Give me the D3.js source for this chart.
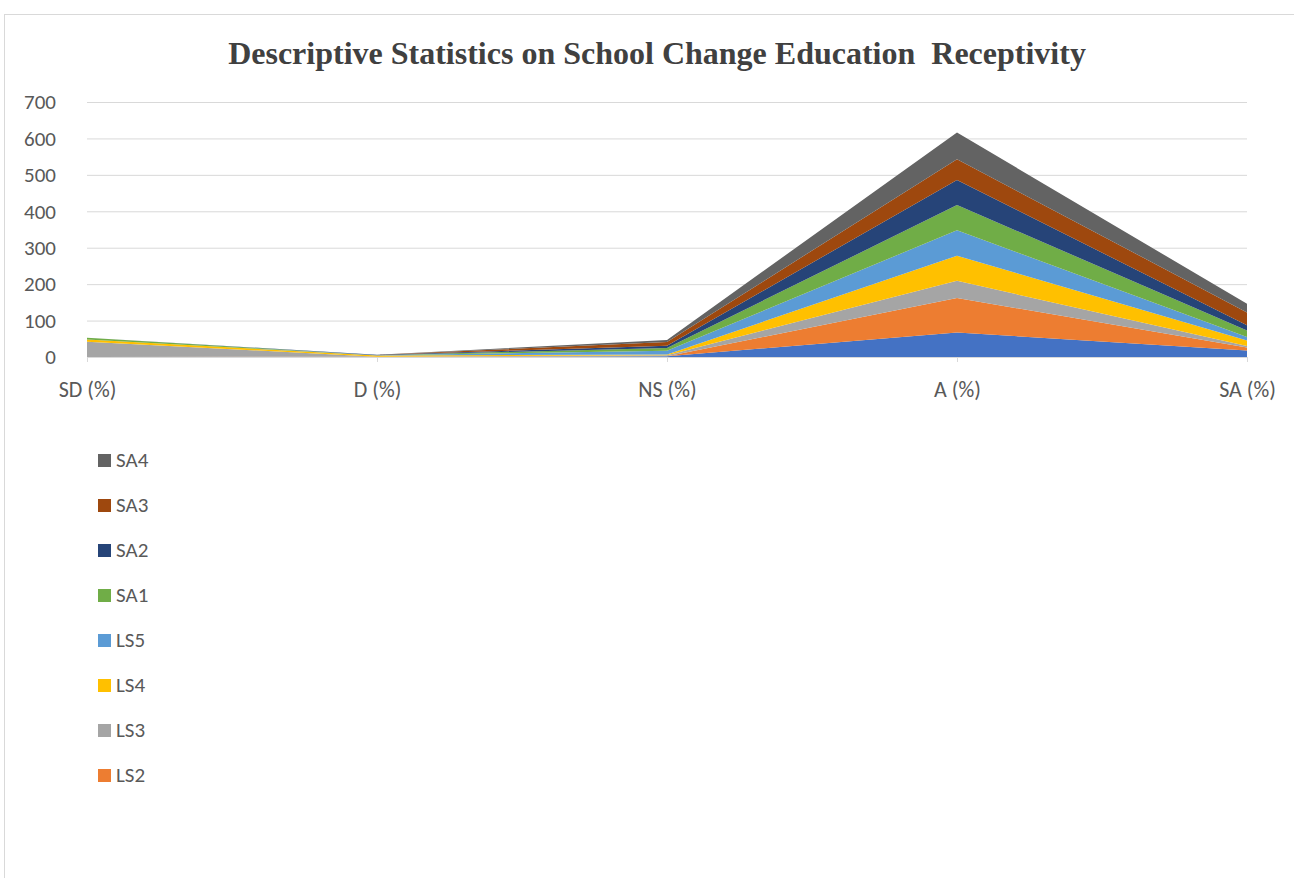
<!DOCTYPE html>
<html><head><meta charset="utf-8">
<script src="https://cdn.jsdelivr.net/npm/d3@7"></script>
<style>body{margin:0;background:#fff;} svg{display:block;}</style>
</head><body>
<svg id="c" width="1294" height="878"></svg>
<script>
const categories = ["SD (%)", "D (%)", "NS (%)", "A (%)", "SA (%)"];
const seriesNames = ["LS1","LS2","LS3","LS4","LS5","SA1","SA2","SA3","SA4"];
const LS1 = [0, 0, 2, 67, 18];
const LS2 = [0, 1, 0, 95, 8];
const LS3 = [42, 0, 3, 47, 4];
const LS4 = [6, 3, 2, 69, 15];
const LS5 = [0, 1, 10, 70, 10];
const SA1 = [5, 0, 8, 69, 18];
const SA2 = [0, 1, 6, 69, 14];
const SA3 = [0, 0, 10, 57, 35];
const SA4 = [0, 0, 6, 73, 24];
const colors = ["#4472C4","#ED7D31","#A5A5A5","#FFC000","#5B9BD5","#70AD47","#264478","#9E480E","#636363"];
const yTicks = [0,100,200,300,400,500,600,700];
const legendNames = ["SA4","SA3","SA2","SA1","LS5","LS4","LS3","LS2"];
const title = "Descriptive Statistics on School Change Education  Receptivity";

const values = [LS1,LS2,LS3,LS4,LS5,SA1,SA2,SA3,SA4];
const rows = categories.map((c,i)=>{const r={cat:c}; seriesNames.forEach((s,j)=>r[s]=values[j][i]); return r;});
const FONT = "Carlito, Calibri, 'Liberation Sans', sans-serif";

const svg = d3.select("#c");
svg.append("rect").attr("x",4.5).attr("y",14.5).attr("width",1300).attr("height",900)
  .attr("fill","none").attr("stroke","#d9d9d9");

const x = d3.scalePoint().domain(categories).range([87,1247]);
const y = d3.scaleLinear().domain([0,700]).range([357,102]);

svg.append("g").selectAll("line").data(yTicks).join("line")
  .attr("x1",87).attr("x2",1247).attr("y1",d=>y(d)+0.5).attr("y2",d=>y(d)+0.5)
  .attr("stroke","#d9d9d9").attr("stroke-width",1);

const stack = d3.stack().keys(seriesNames);
const layers = stack(rows);
const area = d3.area().x(d=>x(d.data.cat)).y0(d=>y(d[0])).y1(d=>y(d[1]));
svg.append("g").selectAll("path").data(layers).join("path")
  .attr("d",area).attr("fill",(d,i)=>colors[i]);

const xa = svg.append("g").attr("transform","translate(0,357)").call(d3.axisBottom(x).tickSize(5));
xa.select(".domain").attr("stroke","#d9d9d9");
xa.selectAll(".tick line").attr("stroke","#d9d9d9");
xa.selectAll("text").attr("y",40).attr("dy",0).attr("fill","#595959")
  .style("font-family",FONT).style("font-size","22px");

const ya = svg.append("g").attr("transform","translate(56,0)").call(d3.axisLeft(y).tickValues(yTicks).tickSize(0).tickPadding(0));
ya.select(".domain").remove();
ya.selectAll("text").attr("dy","0.32em").attr("fill","#595959").style("font-family",FONT).style("font-size","21px");

svg.append("text").attr("x",657).attr("y",64).attr("text-anchor","middle")
  .attr("fill","#404040").style("font-family","'Liberation Serif', 'Times New Roman', serif")
  .style("font-weight","bold").style("font-size","32px").attr("xml:space","preserve").text(title);

const lg = svg.append("g");
legendNames.forEach((n,i)=>{
  const ci = seriesNames.indexOf(n);
  const cy = 460 + i*45;
  lg.append("rect").attr("x",98).attr("y",cy-6).attr("width",13).attr("height",13).attr("fill",colors[ci]);
  lg.append("text").attr("x",116).attr("y",cy+7).attr("fill","#595959")
    .style("font-family",FONT).style("font-size","21px").text(n);
});
</script>
</body></html>
